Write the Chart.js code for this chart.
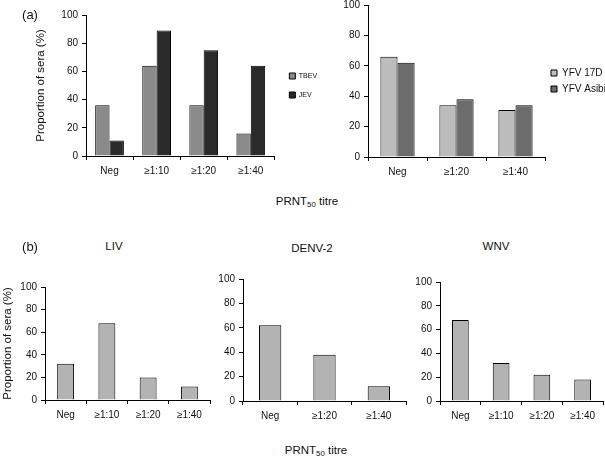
<!DOCTYPE html>
<html><head><meta charset="utf-8">
<script src="https://cdn.jsdelivr.net/npm/chart.js@4.4.1/dist/chart.umd.min.js"></script>
<style>
html,body{margin:0;padding:0;background:#fff;overflow:hidden;width:605px;height:459px;}
body{position:relative;font-family:"Liberation Sans",Arial,sans-serif;color:#111;}
canvas{position:absolute;}
.t{position:absolute;transform:translate(-50%,-50%);white-space:nowrap;line-height:1;}
.t sub{font-size:0.68em;vertical-align:-0.25em;line-height:0;}
</style></head><body>
<canvas id="a1"></canvas>
<canvas id="a2"></canvas>
<canvas id="b1"></canvas>
<canvas id="b2"></canvas>
<canvas id="b3"></canvas>
<div class="t" style="left:30px;top:14px;font-size:13px">(a)</div>
<div class="t" style="left:30px;top:246px;font-size:13px">(b)</div>
<div class="t" style="left:114px;top:247px;font-size:11.5px">LIV</div>
<div class="t" style="left:312px;top:249px;font-size:11.5px">DENV-2</div>
<div class="t" style="left:496px;top:247px;font-size:11.5px">WNV</div>
<div class="t" style="left:307px;top:202px;font-size:11.5px">PRNT<sub>50</sub> titre</div>
<div class="t" style="left:316px;top:451px;font-size:11.5px">PRNT<sub>50</sub> titre</div>
<script>
// ---- data ----
const titresA1 = ['Neg', '≥1:10', '≥1:20', '≥1:40'];
const tbev = [36, 64, 36, 16];
const jev = [11, 89, 75, 64];
const titresA2 = ['Neg', '≥1:20', '≥1:40'];
const yfv17d = [66, 34, 31];
const yfvAsibi = [62, 38, 34];
const titresLIV = ['Neg', '≥1:10', '≥1:20', '≥1:40'];
const liv = [32, 68, 20, 12];
const titresDENV = ['Neg', '≥1:20', '≥1:40'];
const denv2 = [62, 38, 12];
const titresWNV = ['Neg', '≥1:10', '≥1:20', '≥1:40'];
const wnv = [68, 32, 22, 18];
const yTicks = [0, 20, 40, 60, 80, 100];
const yTitle = 'Proportion of sera (%)';

const FAMILY = '"Liberation Sans", Arial, sans-serif';
Chart.defaults.font.family = FAMILY;
Chart.defaults.color = '#111';

function legendWidth(texts, fontSize, boxW, pad) {
  const c = document.createElement('canvas').getContext('2d');
  c.font = 'normal ' + fontSize + 'px ' + FAMILY;
  const w = Math.max(...texts.map(t => c.measureText(t).width));
  return pad + boxW + fontSize / 2 + w + 10;
}

function build(id, g, labels, datasets, o) {
  const PT = 12;
  const cl = g.axisX - o.yw;
  const ct = g.top - PT;
  let lw = 0;
  if (o.legend) lw = legendWidth(datasets.map(d => d.label), o.legend.font, o.legend.box, o.legend.padding) + (o.gap || 0);
  const pr = o.pr || 0;
  const cw = Math.ceil(g.right - cl + lw + pr);
  const ch = g.bottom + o.xh - ct;
  const cv = document.getElementById(id);
  cv.width = cw; cv.height = ch;
  cv.style.left = cl + 'px'; cv.style.top = ct + 'px';
  cv.style.width = cw + 'px'; cv.style.height = ch + 'px';
  const scales = {
    x: {
      afterFit: s => { s.height = o.xh; },
      grid: { display: true, offset: true, drawOnChartArea: false, drawTicks: true, tickLength: 4, color: '#000', lineWidth: 1 },
      border: { display: true, color: '#000', width: 1 },
      ticks: { padding: 5, font: { size: 10 }, color: '#111', maxRotation: 0, autoSkip: false }
    },
    y: {
      min: 0, max: 100,
      afterBuildTicks: s => { s.ticks = yTicks.map(v => ({ value: v })); },
      afterFit: s => { s.width = o.yw; },
      grid: { display: true, drawOnChartArea: false, drawTicks: true, tickLength: 4, color: '#000', lineWidth: 1 },
      border: { display: true, color: '#000', width: 1 },
      ticks: { padding: 4, font: { size: 10 }, color: '#111' },
      title: o.yTitle ? { display: true, text: yTitle, font: { size: 11.5 }, padding: 0, color: '#111' } : { display: false }
    }
  };
  if (o.gap) {
    scales.gap = {
      position: 'right', display: true, min: 0, max: 100,
      grid: { display: false }, border: { display: false }, ticks: { display: false },
      afterFit: s => { s.width = o.gap; }
    };
  }
  return new Chart(cv, {
    type: 'bar',
    data: { labels: labels, datasets: datasets.map(d => Object.assign({
      borderColor: '#000', borderWidth: 1, borderSkipped: 'start',
      categoryPercentage: o.cat, barPercentage: 1, yAxisID: 'y'
    }, d)) },
    options: {
      responsive: false, animation: false, events: [],
      layout: { padding: { top: PT, right: pr, bottom: 0, left: 0 } },
      plugins: {
        tooltip: { enabled: false },
        legend: o.legend ? {
          display: true, position: 'right', align: 'center', fullSize: false,
          labels: { boxWidth: o.legend.box, boxHeight: o.legend.box, padding: o.legend.padding,
                    font: { size: o.legend.font }, color: '#111' }
        } : { display: false }
      },
      scales: scales
    }
  });
}

build('a1', { axisX: 86, top: 15, bottom: 156, right: 273 }, titresA1, [
  { label: 'TBEV', data: tbev, backgroundColor: '#8a8a8a' },
  { label: 'JEV', data: jev, backgroundColor: '#2a2a2a' }
], { yw: 52, xh: 20, cat: 0.61, yTitle: true, gap: 3, legend: { font: 7, box: 6, padding: 12 } });

build('a2', { axisX: 368, top: 5, bottom: 157, right: 543 }, titresA2, [
  { label: 'YFV 17D', data: yfv17d, backgroundColor: '#bcbcbc' },
  { label: 'YFV Asibi', data: yfvAsibi, backgroundColor: '#6c6c6c' }
], { yw: 30, xh: 20, cat: 0.58, legend: { font: 10, box: 6, padding: 6 } });

build('b1', { axisX: 45, top: 287, bottom: 400, right: 210 }, titresLIV, [
  { label: 'LIV', data: liv, backgroundColor: '#b3b3b3' }
], { yw: 44, xh: 20, cat: 0.41, yTitle: true, pr: 1 });

build('b2', { axisX: 243, top: 279, bottom: 401, right: 406 }, titresDENV, [
  { label: 'DENV-2', data: denv2, backgroundColor: '#b3b3b3' }
], { yw: 30, xh: 20, cat: 0.41, pr: 1 });

build('b3', { axisX: 440, top: 282, bottom: 401, right: 603 }, titresWNV, [
  { label: 'WNV', data: wnv, backgroundColor: '#b3b3b3' }
], { yw: 30, xh: 20, cat: 0.41, pr: 1 });
</script>
</body></html>
